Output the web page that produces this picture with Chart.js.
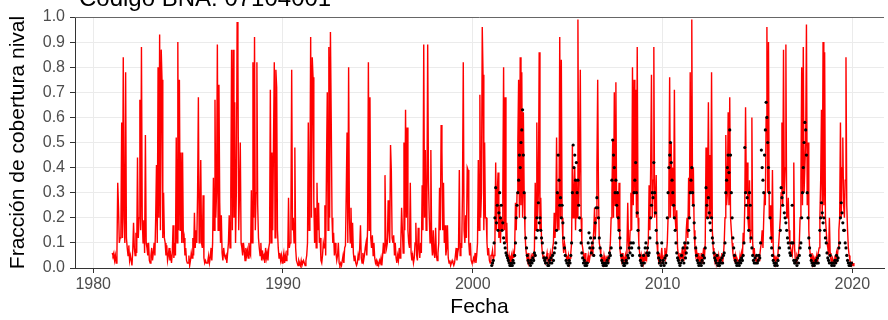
<!DOCTYPE html>
<html>
<head>
<meta charset="utf-8">
<script src="https://cdn.jsdelivr.net/npm/chart.js@4.4.1/dist/chart.umd.min.js"></script>
<style>
  html, body { margin: 0; padding: 0; background: #ffffff; }
  #wrap { width: 888px; height: 320px; }
</style>
</head>
<body>
<div id="wrap"><canvas id="fsc-chart" width="888" height="320"></canvas></div>
<script>
// 📌 Datos
const titulo = "Código BNA: 07104001";
const xTicks = [1980, 1990, 2000, 2010, 2020];
const yTicks = [0.0, 0.1, 0.2, 0.3, 0.4, 0.5, 0.6, 0.7, 0.8, 0.9, 1.0];
const pasosPorAnio = 24;   // ~15 días por valor

// serie roja: una fila por año desde 1981
const anioModelo = 1981;
const modeloFsc = [
  [.06,.05,.06,.03,.05,.02,.06,.34,.24,.10,.12,.15,.58,.12,.84,.20,.10,.78,.12,.08,.05,.09,.03,.05], // 1981
  [.03,.01,.07,.18,.08,.05,.14,.06,.44,.12,.20,.67,.15,.88,.20,.10,.19,.06,.53,.10,.08,.05,.10,.03],
  [.02,.05,.08,.03,.06,.10,.05,.20,.41,.10,.80,.20,.93,.15,.87,.75,.12,.30,.12,.10,.05,.09,.03,.05],
  [.08,.03,.05,.02,.06,.17,.04,.10,.05,.52,.10,.90,.15,.75,.15,.46,.10,.46,.10,.12,.05,.08,.03,.02],
  [.02,.05,.01,.03,.06,.04,.12,.05,.22,.08,.15,.10,.30,.68,.10,.20,.43,.10,.08,.29,.04,.02,.03,.02], // 1985
  [.02,.03,.05,.02,.04,.08,.03,.10,.36,.15,.67,.20,.30,.89,.15,.73,.26,.10,.21,.06,.03,.08,.05,.04],
  [.05,.02,.06,.10,.21,.08,.30,.87,.15,.87,.20,.66,.10,.30,.98,.83,.15,.30,.50,.10,.08,.05,.10,.07],
  [.03,.08,.05,.07,.04,.10,.06,.05,.31,.10,.82,.20,.92,.15,.30,.82,.25,.12,.08,.05,.10,.03,.07,.04],
  [.05,.02,.08,.04,.06,.03,.08,.10,.71,.10,.46,.15,.50,.82,.12,.79,.72,.15,.08,.04,.06,.03,.05,.02],
  [.04,.06,.02,.05,.03,.07,.05,.28,.08,.10,.20,.79,.15,.20,.10,.48,.08,.03,.02,.01,.03,.02,.01,.03], // 1990
  [.01,.02,.03,.02,.01,.03,.05,.10,.58,.15,.30,.92,.20,.84,.76,.26,.10,.24,.08,.34,.15,.26,.10,.12],
  [.03,.02,.05,.10,.08,.25,.05,.40,.70,.15,.88,.20,.94,.60,.20,.10,.14,.05,.10,.06,.03,.05,.10,.02],
  [.01,.02,.01,.03,.05,.02,.08,.09,.30,.54,.10,.80,.20,.10,.24,.08,.18,.06,.03,.05,.02,.01,.02,.05],
  [.03,.08,.17,.04,.02,.06,.03,.05,.08,.10,.05,.16,.82,.15,.68,.12,.08,.13,.05,.10,.04,.02,.03,.01],
  [.02,.01,.03,.02,.04,.01,.05,.10,.06,.37,.12,.08,.10,.27,.15,.10,.49,.39,.12,.10,.13,.05,.10,.04], // 1995
  [.02,.05,.03,.08,.04,.10,.24,.15,.06,.50,.15,.63,.20,.56,.15,.10,.08,.34,.06,.03,.05,.02,.04,.10],
  [.18,.05,.03,.16,.08,.04,.10,.06,.33,.15,.89,.20,.47,.15,.25,.89,.34,.20,.10,.47,.10,.05,.15,.06],
  [.04,.16,.05,.03,.06,.10,.32,.15,.57,.47,.15,.34,.10,.17,.05,.08,.17,.04,.02,.03,.01,.02,.03,.02],
  [.01,.02,.05,.08,.03,.06,.08,.39,.05,.10,.08,.30,.82,.15,.10,.21,.12,.40,.39,.10,.05,.10,.03,.02],
  [.02,.04,.03,.06,.02,.05,.10,.43,.15,.69,.20,.30,.96,.77,.15,.50,.20,.20,.10,.05,.08,.03,.02,.05], // 2000
  [.05,.07,.03,.05,.10,.42,.15,.30,.38,.12,.25,.10,.20,.15,.30,.80,.15,.68,.10,.18,.05,.03,.05,.02],
  [.02,.05,.03,.06,.04,.08,.26,.15,.30,.50,.75,.20,.84,.25,.78,.20,.62,.30,.15,.08,.05,.03,.06,.02],
  [.03,.02,.05,.04,.06,.03,.08,.34,.15,.58,.20,.30,.86,.15,.28,.10,.06,.04,.05,.03,.02,.04,.06,.03],
  [.02,.04,.06,.03,.05,.08,.10,.22,.12,.20,.52,.15,.30,.15,.92,.20,.83,.20,.10,.06,.10,.08,.05,.03],
  [.03,.05,.02,.04,.06,.10,.49,.20,.30,.40,.15,.35,.20,.99,.25,.40,.79,.20,.10,.08,.05,.03,.06,.02], // 2005
  [.02,.03,.05,.02,.04,.06,.08,.05,.10,.15,.24,.12,.20,.40,.75,.30,.10,.08,.05,.03,.04,.02,.05,.03],
  [.02,.04,.03,.05,.02,.06,.10,.20,.30,.51,.20,.70,.25,.74,.20,.30,.15,.34,.08,.05,.03,.06,.02,.04],
  [.03,.05,.02,.08,.26,.10,.06,.15,.30,.15,.80,.25,.75,.30,.71,.20,.88,.20,.10,.06,.03,.05,.02,.04],
  [.02,.05,.03,.06,.04,.08,.10,.33,.15,.40,.77,.20,.35,.88,.20,.25,.37,.10,.05,.03,.06,.02,.04,.08],
  [.03,.02,.05,.08,.04,.06,.10,.20,.30,.76,.20,.50,.25,.40,.20,.71,.20,.15,.23,.08,.05,.03,.06,.04], // 2010
  [.04,.08,.03,.06,.10,.05,.15,.20,.12,.36,.20,.78,.30,.99,.25,.40,.15,.08,.05,.07,.03,.06,.02,.04],
  [.03,.06,.02,.05,.08,.04,.10,.48,.20,.30,.66,.20,.45,.20,.78,.15,.08,.05,.03,.06,.02,.04,.03,.05],
  [.02,.04,.03,.06,.02,.05,.10,.20,.53,.25,.30,.62,.25,.68,.20,.15,.10,.06,.04,.03,.05,.02,.04,.03],
  [.03,.02,.05,.03,.06,.04,.14,.10,.25,.64,.30,.42,.20,.15,.35,.10,.15,.60,.10,.05,.08,.03,.05,.02],
  [.02,.04,.03,.05,.08,.10,.15,.08,.20,.30,.25,.60,.96,.30,.90,.20,.25,.15,.10,.39,.08,.03,.05,.02], // 2015
  [.04,.03,.06,.10,.15,.20,.30,.58,.25,.87,.30,.40,.89,.20,.20,.28,.15,.10,.08,.06,.05,.10,.42,.08],
  [.03,.02,.05,.04,.06,.10,.20,.35,.80,.25,.88,.30,.30,.50,.97,.25,.50,.15,.08,.05,.03,.06,.02,.04],
  [.02,.04,.03,.05,.02,.06,.08,.20,.35,.63,.20,.90,.25,.86,.20,.15,.10,.08,.05,.20,.06,.03,.02,.04],
  [.03,.02,.05,.03,.06,.04,.08,.15,.20,.58,.20,.40,.52,.25,.20,.35,.84,.25,.15,.08,.05,.03,.02,.01],
  [.02,.01,.02] // 2020
];

// puntos negros (observado) desde 2001
const anioObs = 2001;
const observadoFsc = [
  [.01,.02,.03,.10,.20,.32,.18,.25,.15,.22,.30,.20,.25,.15,.18,.12,.10,.08,.06,.05,.04,.03,.02,.01], // 2001
  [.01,.02,.01,.03,.02,.05,.10,.20,.25,.30,.35,.45,.40,.50,.55,.63,.45,.30,.20,.12,.08,.05,.03,.02],
  [.02,.01,.03,.02,.04,.03,.06,.05,.12,.20,.15,.26,.18,.20,.15,.12,.10,.06,.04,.03,.02,.04,.02,.01],
  [.01,.03,.02,.04,.02,.05,.03,.06,.08,.10,.15,.30,.45,.35,.25,.28,.20,.25,.18,.12,.08,.05,.03,.02],
  [.02,.01,.03,.02,.05,.10,.30,.49,.40,.45,.35,.42,.30,.35,.25,.20,.15,.10,.06,.04,.02,.03,.01,.02], // 2005
  [.01,.02,.10,.14,.08,.12,.06,.10,.08,.05,.12,.18,.24,.28,.24,.20,.12,.08,.05,.03,.02,.01,.02,.01],
  [.02,.01,.03,.02,.04,.06,.05,.08,.35,.51,.45,.40,.30,.35,.25,.30,.20,.15,.12,.08,.05,.03,.02,.01],
  [.01,.02,.03,.02,.05,.04,.08,.06,.10,.08,.05,.10,.30,.35,.42,.30,.22,.15,.08,.05,.03,.02,.01,.02],
  [.05,.02,.08,.10,.06,.08,.05,.06,.12,.20,.25,.30,.28,.42,.30,.22,.15,.10,.06,.04,.02,.03,.01,.10],
  [.02,.03,.01,.04,.02,.05,.20,.30,.40,.45,.50,.42,.35,.30,.25,.20,.15,.10,.06,.04,.03,.02,.01,.02], // 2010
  [.05,.03,.08,.02,.10,.04,.06,.08,.10,.15,.20,.30,.35,.40,.30,.25,.18,.12,.08,.05,.03,.02,.01,.02],
  [.02,.01,.03,.05,.02,.04,.08,.32,.25,.20,.28,.22,.18,.15,.20,.12,.10,.06,.04,.03,.02,.05,.01,.02],
  [.01,.03,.02,.04,.02,.05,.06,.10,.30,.35,.40,.45,.38,.55,.45,.30,.20,.12,.08,.05,.03,.02,.01,.02],
  [.02,.01,.03,.02,.04,.03,.05,.10,.48,.30,.25,.28,.20,.15,.30,.25,.12,.08,.05,.03,.02,.04,.02,.05],
  [.02,.03,.05,.04,.10,.47,.40,.35,.30,.45,.55,.66,.60,.50,.40,.30,.20,.12,.08,.05,.03,.02,.01,.02], // 2015
  [.02,.01,.03,.05,.08,.15,.32,.28,.25,.30,.22,.20,.18,.15,.12,.10,.08,.06,.05,.10,.25,.10,.03,.02],
  [.02,.03,.01,.04,.02,.05,.08,.10,.20,.30,.40,.50,.58,.55,.45,.30,.20,.12,.08,.05,.03,.02,.01,.02],
  [.01,.02,.03,.02,.04,.02,.05,.15,.20,.26,.22,.18,.20,.15,.12,.10,.06,.04,.03,.02,.05,.02,.01,.02],
  [.02,.01,.03,.02,.05,.03,.04,.08,.10,.20,.26,.22,.18,.15,.15,.10,.08,.05,.03,.02,.01,.02,.01,.02]  // 2019
];

// ✅ pasar filas anuales a puntos {x: fecha decimal, y: valor}
function aSerie(filas, anio0) {
  let out = [];
  filas.forEach((fila, k) => {
    fila.forEach((v, i) => {
      if (v !== null) out.push({ x: anio0 + k + i / pasosPorAnio, y: v });
    });
  });
  return out;
}

const fuente = "'Liberation Sans', Arial, sans-serif";

// título cortado arriba + borde superior del panel
const extras = {
  id: "extras",
  afterDraw(chart) {
    const ctx = chart.ctx;
    const a = chart.chartArea;
    ctx.save();
    ctx.strokeStyle = "#666666";
    ctx.lineWidth = 1;
    ctx.beginPath();
    ctx.moveTo(a.left, a.top + 0.5);
    ctx.lineTo(a.right, a.top + 0.5);
    ctx.stroke();
    ctx.fillStyle = "#000000";
    ctx.font = "24px " + fuente;
    ctx.textBaseline = "alphabetic";
    ctx.fillText(titulo, 79, 6);
    ctx.restore();
  }
};

let ctx = document.getElementById("fsc-chart").getContext("2d");

window.fscChart = new Chart(ctx, {
  type: "line",
  data: {
    datasets: [
      {
        label: "observado",
        data: aSerie(observadoFsc, anioObs),
        showLine: false,
        pointRadius: 1.6,
        pointBackgroundColor: "#000000",
        pointBorderWidth: 0
      },
      {
        label: "modelo",
        data: aSerie(modeloFsc, anioModelo),
        borderColor: "#ff0000",
        borderWidth: 1.4,
        pointRadius: 0,
        tension: 0
      }
    ]
  },
  options: {
    responsive: false,
    animation: false,
    parsing: false,
    layout: { padding: { top: 17, right: 0, bottom: 0, left: 0 } },
    plugins: {
      legend: { display: false },
      tooltip: { enabled: false }
    },
    scales: {
      x: {
        type: "linear",
        min: 1979.04,
        max: 2021.67,
        afterBuildTicks: (s) => { s.ticks = xTicks.map(v => ({ value: v })); },
        afterFit: (s) => { s.height = 52; },
        grid: { color: "#ebebeb", tickColor: "#333333", tickLength: 5 },
        border: { display: true, color: "#333333", width: 1 },
        ticks: {
          color: "#4d4d4d",
          font: { family: fuente, size: 16 },
          padding: 2,
          maxRotation: 0,
          callback: (v) => String(v)
        },
        title: {
          display: true,
          text: "Fecha",
          color: "#000000",
          font: { family: fuente, size: 21 },
          padding: { top: 0, bottom: 0 }
        }
      },
      y: {
        min: 0,
        max: 1,
        afterBuildTicks: (s) => { s.ticks = yTicks.map(v => ({ value: v })); },
        afterFit: (s) => { s.width = 75; },
        grid: { color: "#ebebeb", tickColor: "#333333", tickLength: 5 },
        border: { display: true, color: "#333333", width: 1 },
        ticks: {
          color: "#4d4d4d",
          font: { family: fuente, size: 16 },
          padding: 5,
          callback: (v) => v.toFixed(1)
        },
        title: {
          display: true,
          text: "Fracción de cobertura nival",
          color: "#000000",
          font: { family: fuente, size: 21 },
          padding: { top: 6, bottom: 0 }
        }
      }
    }
  },
  plugins: [extras]
});
</script>
</body>
</html>
